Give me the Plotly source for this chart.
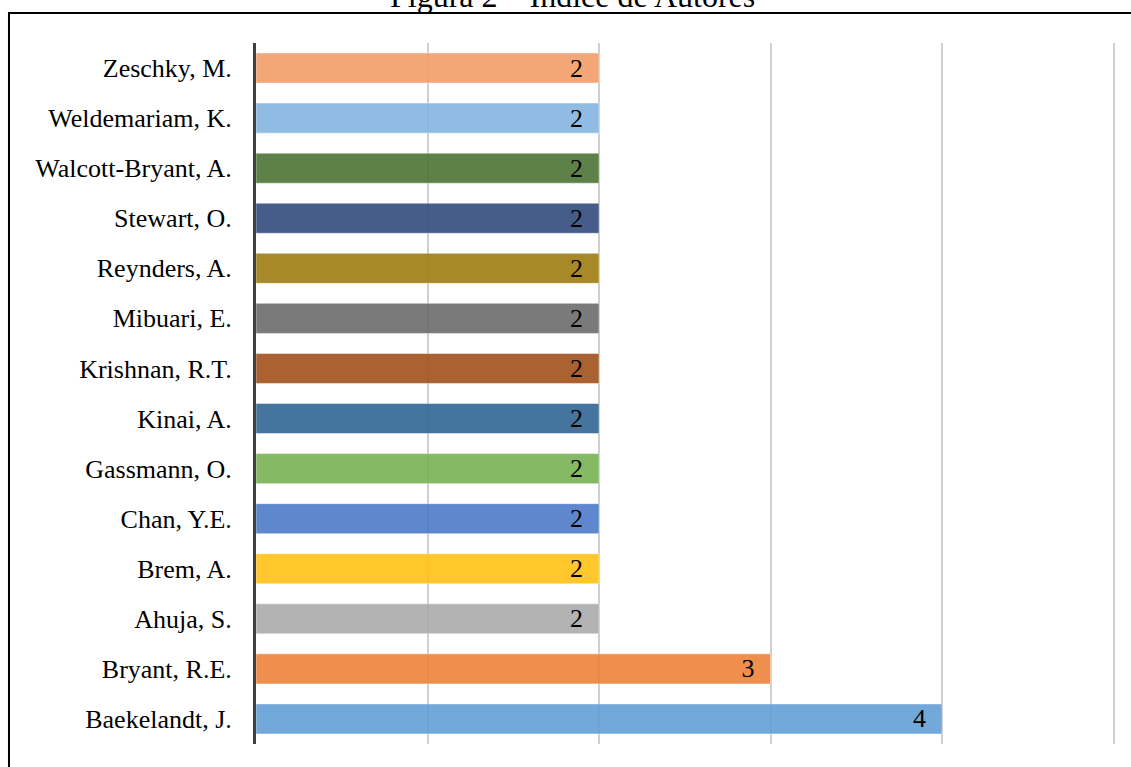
import plotly.graph_objects as go

# Data (top to bottom as shown)
authors = [
    "Zeschky, M.", "Weldemariam, K.", "Walcott-Bryant, A.", "Stewart, O.",
    "Reynders, A.", "Mibuari, E.", "Krishnan, R.T.", "Kinai, A.",
    "Gassmann, O.", "Chan, Y.E.", "Brem, A.", "Ahuja, S.",
    "Bryant, R.E.", "Baekelandt, J.",
]
counts = [2, 2, 2, 2, 2, 2, 2, 2, 2, 2, 2, 2, 3, 4]
x_ticks = [0, 1, 2, 3, 4, 5]
title_text = "Figura 2 – Índice de Autores"

# Observed (blended) bar colours
observed = [
    "#F4A877", "#90BCE4", "#5F824A", "#475E8A", "#A98A29", "#7B7B7B", "#AB6333",
    "#4676A0", "#86BA64", "#5F88CE", "#FFC82D", "#B3B3B3", "#EF8F4F", "#73A9DB",
]
ALPHA = 0.9


def base_colour(hx, a=ALPHA):
    h = hx.lstrip("#")
    rgb = [int(h[i:i + 2], 16) for i in (0, 2, 4)]
    out = [max(0, min(255, round((c - (1 - a) * 255) / a))) for c in rgb]
    return "rgb({},{},{})".format(*out)


colors = [base_colour(c) for c in observed]

FONT = "Times New Roman, Liberation Serif, serif"
NBSP = "\u00a0"

fig = go.Figure(
    go.Bar(
        x=counts,
        y=authors,
        orientation="h",
        marker=dict(color=colors, opacity=ALPHA,
                    line=dict(color="rgba(255,255,255,0.45)", width=1)),
        text=[f"{v}{NBSP*2}" for v in counts],
        textposition="inside",
        insidetextanchor="end",
        constraintext="none",
        textangle=0,
        textfont=dict(family=FONT, size=26, color="black"),
        hoverinfo="skip",
    )
)

fig.update_layout(
    width=1131,
    height=767,
    margin=dict(l=256, r=14, t=43, b=23),
    paper_bgcolor="white",
    plot_bgcolor="white",
    bargap=0.4,
    showlegend=False,
    font=dict(family=FONT, size=26, color="black"),
    xaxis=dict(
        range=[0, 5.02],
        tickvals=x_ticks,
        showticklabels=False,
        showgrid=True,
        gridcolor="#cfcfcf",
        gridwidth=1.5,
        zeroline=False,
        showline=False,
        ticks="",
        fixedrange=True,
    ),
    yaxis=dict(
        autorange="reversed",
        showline=True,
        linecolor="#404040",
        linewidth=3,
        ticks="",
        showgrid=False,
        ticklabelstandoff=16,
        tickfont=dict(family=FONT, size=26, color="black"),
        fixedrange=True,
    ),
    shapes=[
        dict(type="rect", xref="paper", yref="paper",
             x0=-0.2869, x1=1.05, y0=-0.1, y1=1.0428,
             line=dict(color="black", width=2), fillcolor="rgba(0,0,0,0)",
             layer="below"),
    ],
    annotations=[
        dict(text=title_text, xref="paper", yref="paper",
             x=0.368, y=1.0673, xanchor="center", yanchor="middle",
             showarrow=False, font=dict(family=FONT, size=32, color="black")),
    ],
)

fig.write_html("out.html")
